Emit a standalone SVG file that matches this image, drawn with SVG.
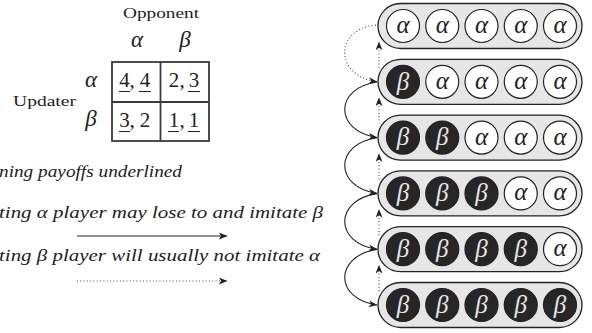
<svg xmlns="http://www.w3.org/2000/svg" width="592" height="333" viewBox="0 0 592 333">
<style>
.t{font-family:"Liberation Serif","Times New Roman",serif;fill:#222}
.it{font-style:italic}
.row{fill:#e6e6e6;stroke:#222;stroke-width:1.3}
.wc{fill:#fff;stroke:#222;stroke-width:1.2}
.bc{fill:#262626;stroke:#222;stroke-width:1.2}
.ga{font-family:"Liberation Serif","Times New Roman",serif;font-style:italic;font-size:25px;fill:#222;text-anchor:middle}
.gb{font-family:"Liberation Serif","Times New Roman",serif;font-style:italic;font-size:25px;fill:#e6e6e6;text-anchor:middle}
.sol{fill:none;stroke:#222;stroke-width:1.1}
.dot{fill:none;stroke:#333;stroke-width:1.1;stroke-dasharray:0.9 2.4}
.ul{stroke:#222;stroke-width:1}
.grid{fill:none;stroke:#3a3a3a;stroke-width:1.8}
</style>
<defs>
<marker id="arr" viewBox="0 0 10 8" refX="9.5" refY="4" markerWidth="9" markerHeight="7" markerUnits="userSpaceOnUse" orient="auto">
<path d="M0,0 L10,4 L0,8 L2.8,4 z" fill="#222"/>
</marker>
</defs>

<g id="payoff-table">
<text class="t" x="123" y="18" font-size="15" textLength="76" lengthAdjust="spacingAndGlyphs">Opponent</text>
<text class="t it" x="137" y="47" font-size="23" text-anchor="middle">α</text>
<text class="t it" x="185" y="47" font-size="23" text-anchor="middle">β</text>
<text class="t" x="13" y="106" font-size="15" textLength="63" lengthAdjust="spacingAndGlyphs">Updater</text>
<text class="t it" x="91" y="87" font-size="23" text-anchor="middle">α</text>
<text class="t it" x="91" y="126" font-size="23" text-anchor="middle">β</text>
<rect class="grid" x="112" y="62" width="97" height="79"/>
<line class="grid" x1="160.5" y1="62" x2="160.5" y2="141"/>
<line class="grid" x1="112" y1="102" x2="209" y2="102"/>
<g font-size="21" text-anchor="middle" class="t">
<text class="t" x="124.5" y="87">4</text><text class="t" x="132" y="87">,</text><text class="t" x="145" y="87">4</text>
<text class="t" x="174" y="87">2</text><text class="t" x="182" y="87">,</text><text class="t" x="194" y="87">3</text>
<text class="t" x="124.5" y="127">3</text><text class="t" x="132" y="127">,</text><text class="t" x="145" y="127">2</text>
<text class="t" x="174" y="127">1</text><text class="t" x="182" y="127">,</text><text class="t" x="194" y="127">1</text>
</g>
<line class="ul" x1="119" y1="91.5" x2="130" y2="91.5"/>
<line class="ul" x1="139" y1="91.5" x2="151" y2="91.5"/>
<line class="ul" x1="188" y1="91.5" x2="200" y2="91.5"/>
<line class="ul" x1="119" y1="131.5" x2="130" y2="131.5"/>
<line class="ul" x1="168" y1="131.5" x2="179" y2="131.5"/>
<line class="ul" x1="188" y1="131.5" x2="200" y2="131.5"/>
</g>

<g id="legend">
<text class="t it" x="-1" y="177" font-size="17.5" textLength="183" lengthAdjust="spacingAndGlyphs">ning payoffs underlined</text>
<text class="t it" x="-1" y="218" font-size="17.5" textLength="324" lengthAdjust="spacingAndGlyphs">ting α player may lose to and imitate β</text>
<text class="t it" x="-1" y="261" font-size="17.5" textLength="321" lengthAdjust="spacingAndGlyphs">ting β player will usually not imitate α</text>
<path class="sol" d="M77 236 L227 236" marker-end="url(#arr)"/>
<path class="dot" d="M77 281 L227 281" marker-end="url(#arr)"/>
</g>

<g id="row1">
<rect class="row" x="378" y="3.5" width="204" height="45" rx="22.5"/>
<circle class="wc" cx="403" cy="26" r="16.5"/><text class="ga" x="403" y="33">α</text>
<circle class="wc" cx="442.25" cy="26" r="16.5"/><text class="ga" x="442.25" y="33">α</text>
<circle class="wc" cx="481.5" cy="26" r="16.5"/><text class="ga" x="481.5" y="33">α</text>
<circle class="wc" cx="520.75" cy="26" r="16.5"/><text class="ga" x="520.75" y="33">α</text>
<circle class="wc" cx="560" cy="26" r="16.5"/><text class="ga" x="560" y="33">α</text>
</g>
<g id="row2">
<rect class="row" x="378" y="59.3" width="204" height="45" rx="22.5"/>
<circle class="bc" cx="403" cy="81.8" r="16.5"/><text class="gb" x="403" y="89.5">β</text>
<circle class="wc" cx="442.25" cy="81.8" r="16.5"/><text class="ga" x="442.25" y="88.8">α</text>
<circle class="wc" cx="481.5" cy="81.8" r="16.5"/><text class="ga" x="481.5" y="88.8">α</text>
<circle class="wc" cx="520.75" cy="81.8" r="16.5"/><text class="ga" x="520.75" y="88.8">α</text>
<circle class="wc" cx="560" cy="81.8" r="16.5"/><text class="ga" x="560" y="88.8">α</text>
</g>
<g id="row3">
<rect class="row" x="378" y="115.1" width="204" height="45" rx="22.5"/>
<circle class="bc" cx="403" cy="137.6" r="16.5"/><text class="gb" x="403" y="145.3">β</text>
<circle class="bc" cx="442.25" cy="137.6" r="16.5"/><text class="gb" x="442.25" y="145.3">β</text>
<circle class="wc" cx="481.5" cy="137.6" r="16.5"/><text class="ga" x="481.5" y="144.6">α</text>
<circle class="wc" cx="520.75" cy="137.6" r="16.5"/><text class="ga" x="520.75" y="144.6">α</text>
<circle class="wc" cx="560" cy="137.6" r="16.5"/><text class="ga" x="560" y="144.6">α</text>
</g>
<g id="row4">
<rect class="row" x="378" y="170.9" width="204" height="45" rx="22.5"/>
<circle class="bc" cx="403" cy="193.4" r="16.5"/><text class="gb" x="403" y="201.1">β</text>
<circle class="bc" cx="442.25" cy="193.4" r="16.5"/><text class="gb" x="442.25" y="201.1">β</text>
<circle class="bc" cx="481.5" cy="193.4" r="16.5"/><text class="gb" x="481.5" y="201.1">β</text>
<circle class="wc" cx="520.75" cy="193.4" r="16.5"/><text class="ga" x="520.75" y="200.4">α</text>
<circle class="wc" cx="560" cy="193.4" r="16.5"/><text class="ga" x="560" y="200.4">α</text>
</g>
<g id="row5">
<rect class="row" x="378" y="226.7" width="204" height="45" rx="22.5"/>
<circle class="bc" cx="403" cy="249.2" r="16.5"/><text class="gb" x="403" y="256.9">β</text>
<circle class="bc" cx="442.25" cy="249.2" r="16.5"/><text class="gb" x="442.25" y="256.9">β</text>
<circle class="bc" cx="481.5" cy="249.2" r="16.5"/><text class="gb" x="481.5" y="256.9">β</text>
<circle class="bc" cx="520.75" cy="249.2" r="16.5"/><text class="gb" x="520.75" y="256.9">β</text>
<circle class="wc" cx="560" cy="249.2" r="16.5"/><text class="ga" x="560" y="256.2">α</text>
</g>
<g id="row6">
<rect class="row" x="378" y="282.5" width="204" height="45" rx="22.5"/>
<circle class="bc" cx="403" cy="305" r="16.5"/><text class="gb" x="403" y="312.7">β</text>
<circle class="bc" cx="442.25" cy="305" r="16.5"/><text class="gb" x="442.25" y="312.7">β</text>
<circle class="bc" cx="481.5" cy="305" r="16.5"/><text class="gb" x="481.5" y="312.7">β</text>
<circle class="bc" cx="520.75" cy="305" r="16.5"/><text class="gb" x="520.75" y="312.7">β</text>
<circle class="bc" cx="560" cy="305" r="16.5"/><text class="gb" x="560" y="312.7">β</text>
</g>

<g id="connectors">
<path class="dot" d="M376 25 C334 29, 334 76, 377 81.8" marker-end="url(#arr)"/>
<path class="sol" d="M377 82 C334 88, 334 131, 377 137.6" marker-end="url(#arr)"/>
<path class="sol" d="M377 137.8 C334 144, 334 187, 377 193.4" marker-end="url(#arr)"/>
<path class="sol" d="M377 193.6 C334 200, 334 243, 377 249.2" marker-end="url(#arr)"/>
<path class="sol" d="M377 249.4 C334 256, 334 299, 377 305" marker-end="url(#arr)"/>
<path class="dot" d="M379 67.8 L379 42" marker-end="url(#arr)"/>
<path class="dot" d="M379 123.6 L379 97.8" marker-end="url(#arr)"/>
<path class="dot" d="M379 179.4 L379 153.6" marker-end="url(#arr)"/>
<path class="dot" d="M379 235.2 L379 209.4" marker-end="url(#arr)"/>
<path class="dot" d="M379 291 L379 265.2" marker-end="url(#arr)"/>
</g>
</svg>
